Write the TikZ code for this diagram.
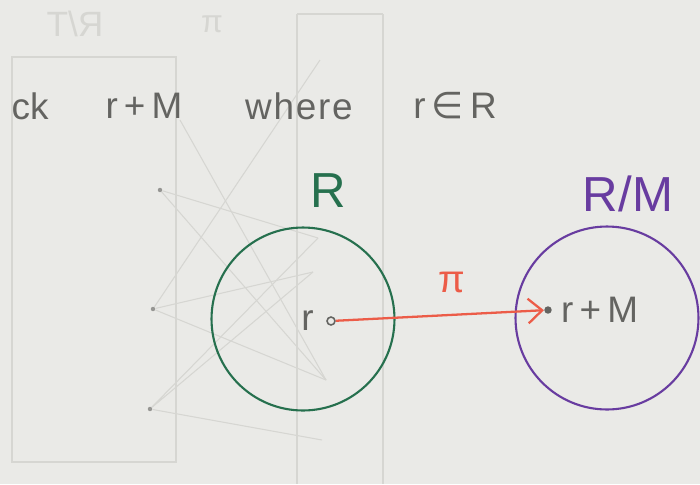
\documentclass[tikz,border=0pt]{standalone}
\usepackage{fontspec}
\setmainfont{Liberation Sans}
\newfontfamily\symbfont{DejaVu Sans}
\usetikzlibrary{positioning,arrows.meta}
\definecolor{paper}{RGB}{234,234,231}
\definecolor{ghost}{RGB}{214,214,210}
\definecolor{pencil}{RGB}{100,100,97}
\definecolor{setgreen}{RGB}{38,112,78}
\definecolor{setpurple}{RGB}{104,60,160}
\definecolor{maplred}{RGB}{236,92,72}
\tikzset{
  hand/.style={text=pencil, font=\fontsize{21}{25}\selectfont, inner sep=1pt},
  setcirc/.style={circle, draw, line width=1.2pt, minimum size=3.66cm, inner sep=0pt},
  faint/.style={draw=ghost, line width=0.6pt},
  ghostdot/.style={circle, fill=ghost!70!black, inner sep=0.9pt}
}
\begin{document}
\begin{tikzpicture}[x=0.02cm, y=-0.02cm]
    % Paper
    \fill[paper] (0,0) rectangle (700,484);
    \useasboundingbox (0,0) rectangle (700,484);

    % Show-through from the back of the page
    \draw[faint] (12,57) rectangle (176,462);
    \draw[faint] (297,14) -- (297,484) (383,14) -- (383,484) (297,14) -- (383,14);
    \node[ghostdot] (g1) at (160,190) {};
    \node[ghostdot] (g2) at (153,309) {};
    \node[ghostdot] (g3) at (150,409) {};
    \coordinate (h1) at (320,60);
    \coordinate (h2) at (318,238);
    \coordinate (h3) at (313,272);
    \coordinate (h4) at (326,380);
    \coordinate (h5) at (322,440);
    \draw[faint] (g1) -- (h4) (g1) -- (h2) (g2) -- (h1) (g2) -- (h3);
    \draw[faint] (g3) -- (h2) (g3) -- (h3) (g3) -- (h5) (g2) -- (h4);
    \draw[faint] (180,120) -- (h4);
    \node[text=ghost, font=\fontsize{20}{24}\selectfont, xscale=-1] (ghostlbl) at (75,24) {R/T};
    \node[text=ghost, font=\fontsize{18}{22}\selectfont] (ghostpi) at (212,24) {π};

    % Top line
    \node[hand] (ck) at (30,106) {ck};
    \node[hand] (coset) at (144,106) {r\,+\,M};
    \node[hand] (where) at (299,106) {w\kern1pt h\kern1pt e\kern1pt r\kern1pt e};
    \node[hand] (rinR) at (455,106) {r\,{\symbfont ∈}\,R};

    % Sets
    \node[setcirc, draw=setgreen] (R) at (303,319) {};
    \node[setcirc, draw=setpurple] (RM) at (607,318) {};
    \node[text=setgreen, font=\fontsize{28}{32}\selectfont] (Rlbl) at (328,191) {R};
    \node[text=setpurple, font=\fontsize{28}{32}\selectfont] (RMlbl) at (628,194) {R/M};

    % Elements
    \node[circle, draw=pencil, line width=0.9pt, inner sep=1.6pt] (r) at (331,321) {};
    \node[hand, left=6pt of r] (rlbl) {r};
    \node[circle, fill=pencil, inner sep=1.5pt] (rM) at (548,310) {};
    \node[hand, right=4pt of rM] (rMlbl) {r\,+\,M};

    % Map
    \draw[maplred, line width=1.3pt, -{Straight Barb[length=8pt, width=14pt]}] (r) -- (rM);
    \node[text=maplred, font=\fontsize{22}{26}\selectfont] (pi) at (452,282) {π};
\end{tikzpicture}
\end{document}
